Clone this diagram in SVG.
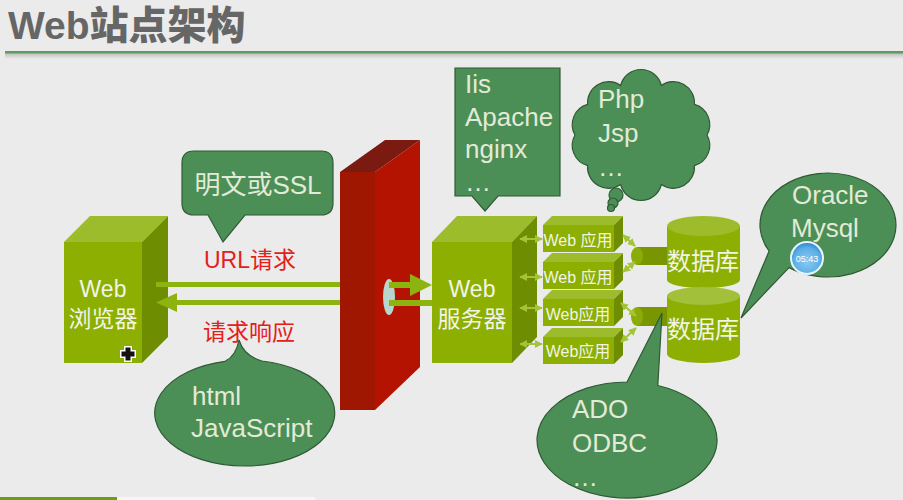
<svg xmlns="http://www.w3.org/2000/svg" width="903" height="500" viewBox="0 0 903 500">
<defs>
<style>
.t{font-family:"Liberation Sans","Noto Sans CJK SC",sans-serif;}
.call{fill:#4b8f56;stroke:#2f5a35;stroke-width:1.2;}
.ct{fill:#e4ead8;font-size:26px;}
.bt{fill:#f2f4e6;font-size:23px;text-anchor:middle;}
.red{fill:#e3201a;font-size:23px;text-anchor:middle;}
.front{fill:#8caf02;}
.top{fill:#9dbc2c;}
.side{fill:#6e8d00;}
.at{fill:#f2f4e6;font-size:16px;text-anchor:middle;}
.thin{stroke:#a3c436;stroke-width:2;fill:none;marker-start:url(#ah);marker-end:url(#ah);}
.bar{fill:#8db40e;}
</style>
<marker id="ah" viewBox="0 0 10 10" refX="9" refY="5" markerWidth="4" markerHeight="4" orient="auto-start-reverse">
<path d="M0,0 L10,5 L0,10 z" fill="#a3c436"/>
</marker>
<linearGradient id="sh" x1="0" y1="0" x2="0" y2="1">
<stop offset="0" stop-color="#bdbdbd"/>
<stop offset="1" stop-color="#ebebeb"/>
</linearGradient>
<radialGradient id="clk" cx="0.5" cy="0.6" r="0.6">
<stop offset="0" stop-color="#8ccaf0"/>
<stop offset="0.7" stop-color="#5aaee6"/>
<stop offset="1" stop-color="#2a7fd0"/>
</radialGradient>
</defs>
<rect width="903" height="500" fill="#ebebeb"/>

<g id="title">
<text x="8" y="39" style="font-family:'Liberation Sans','Noto Sans CJK SC',sans-serif;font-weight:900;font-size:39px;fill:#666666">Web站点架构</text>
<rect x="5" y="53" width="898" height="6" fill="url(#sh)"/>
<rect x="5" y="51" width="898" height="2.5" fill="#5f9a62"/>
</g>

<g id="bottom-strip">
<rect x="0" y="497" width="117" height="3" fill="#6a9f10"/>
<rect x="117" y="497" width="198" height="3" fill="#f6f6f6"/>
</g>

<g id="firewall">
<polygon points="340,172 385,140 420,140 375,172" fill="#7b1a10"/>
<rect x="340" y="172" width="35" height="238" fill="#9f1700"/>
<polygon points="375,172 420,140 420,367 375,410" fill="#b31300"/>
<ellipse cx="389" cy="297" rx="6" ry="18" fill="#b8d6cc"/>
</g>

<g id="browser">
<polygon class="top" points="64,242 90,216 168,216 142,242"/>
<polygon class="side" points="142,242 168,216 168,337 142,363"/>
<rect class="front" x="64" y="242" width="78" height="121"/>
<text class="t bt" x="103" y="297">Web</text>
<text class="t bt" x="103" y="327">浏览器</text>
<path d="M124,346 h8 v4 h4 v8 h-4 v4 h-8 v-4 h-4 v-8 h4 z" fill="#ffffff"/>
<path d="M125.5,347.5 h5 v4 h4 v5 h-4 v4 h-5 v-4 h-4 v-5 h4 z" fill="#111111"/>
</g>

<g id="server">
<polygon class="top" points="432,242 457,216 537,216 512,242"/>
<polygon class="side" points="512,242 537,216 537,337 512,363"/>
<rect class="front" x="432" y="242" width="80" height="121"/>
<text class="t bt" x="472" y="297">Web</text>
<text class="t bt" x="472" y="327">服务器</text>
</g>

<g id="app1">
<polygon class="top" points="543,225 552,216 623,216 614,225"/>
<polygon class="side" points="614,225 623,216 623,243 614,252"/>
<rect class="front" x="543" y="225" width="71" height="27"/>
<text class="t at" x="578" y="246">Web 应用</text>
</g>
<g id="app2">
<polygon class="top" points="543,262 552,253 623,253 614,262"/>
<polygon class="side" points="614,262 623,253 623,280 614,289"/>
<rect class="front" x="543" y="262" width="71" height="27"/>
<text class="t at" x="578" y="283">Web 应用</text>
</g>
<g id="app3">
<polygon class="top" points="543,299 552,290 623,290 614,299"/>
<polygon class="side" points="614,299 623,290 623,317 614,326"/>
<rect class="front" x="543" y="299" width="71" height="27"/>
<text class="t at" x="578" y="320">Web应用</text>
</g>
<g id="app4">
<polygon class="top" points="543,337 552,328 623,328 614,337"/>
<polygon class="side" points="614,337 623,328 623,355 614,364"/>
<rect class="front" x="543" y="337" width="71" height="27"/>
<text class="t at" x="578" y="357">Web应用</text>
</g>

<g id="db-link1">
<rect x="637" y="247" width="31" height="18" fill="#799600"/>
<ellipse cx="637" cy="256" rx="6" ry="9" fill="#8aab08"/>
</g>
<g id="db-link2">
<rect x="637" y="307" width="31" height="19" fill="#799600"/>
<ellipse cx="637" cy="316.5" rx="6" ry="9.5" fill="#8aab08"/>
</g>

<g id="db1">
<rect x="667" y="226" width="73" height="54" fill="#8caf02"/>
<ellipse cx="703.5" cy="280" rx="36.5" ry="8" fill="#8caf02"/>
<ellipse cx="703.5" cy="226" rx="36.5" ry="10" fill="#9dbc2c"/>
<text class="t bt" x="703" y="270" style="font-size:24px">数据库</text>
</g>
<g id="db2">
<rect x="667" y="296" width="73" height="58" fill="#8caf02"/>
<ellipse cx="703.5" cy="354" rx="36.5" ry="9" fill="#8caf02"/>
<ellipse cx="703.5" cy="296" rx="36.5" ry="9" fill="#a2c03a"/>
<text class="t bt" x="703" y="338" style="font-size:24px">数据库</text>
</g>

<g id="connectors">
<rect class="bar" x="156" y="282" width="184" height="5"/>
<rect class="bar" x="175" y="300" width="165" height="5"/>
<polygon class="bar" points="156,302.5 177,293 177,312"/>
<rect class="bar" x="389" y="282" width="24" height="6"/>
<polygon class="bar" points="410,274 432,285 410,296"/>
<rect class="bar" x="389" y="300" width="43" height="6"/>
<line class="thin" x1="520" y1="239" x2="542" y2="239"/>
<line class="thin" x1="520" y1="277" x2="542" y2="277"/>
<line class="thin" x1="520" y1="308" x2="542" y2="308"/>
<line class="thin" x1="520" y1="344" x2="542" y2="344"/>
<line class="thin" x1="623" y1="235" x2="635" y2="246"/>
<line class="thin" x1="623" y1="272" x2="635" y2="262"/>
<line class="thin" x1="621" y1="303" x2="636" y2="316"/>
<line class="thin" x1="621" y1="342" x2="636" y2="328"/>
</g>

<g id="callout-ssl">
<path class="call" d="M194,151 H321 Q333,151 333,163 V203 Q333,215 321,215 H245 L223,242 L208,215 H194 Q182,215 182,203 V163 Q182,151 194,151 Z"/>
<text class="t ct" x="258" y="194" text-anchor="middle">明文或SSL</text>
</g>

<g id="label-url">
<text class="t red" x="250" y="268">URL请求</text>
</g>
<g id="label-resp">
<text class="t red" x="249" y="340">请求响应</text>
</g>

<g id="callout-html">
<path class="call" d="M225,361.3 Q236,356 239,340 Q244,356 262,361 A90 53 0 1 1 225,361.3 Z"/>
<text class="t ct" x="192" y="405">html</text>
<text class="t ct" x="191" y="437">JavaScript</text>
</g>

<g id="callout-server">
<path class="call" d="M455,68 H560 V196 H498 L485,211 L472,196 H455 Z"/>
<text class="t ct" x="465" y="93">Iis</text>
<text class="t ct" x="465" y="126">Apache</text>
<text class="t ct" x="465" y="158">nginx</text>
<text class="t ct" x="465" y="191">…</text>
</g>

<g id="cloud-script">
<path class="call" d="M707,135 A21 21 0 0 1 694.4,165.6 A21 21 0 0 1 661.4,184.5 A21 21 0 0 1 620.6,184.5 A21 21 0 0 1 587.6,165.6 A21 21 0 0 1 575,135 A21 21 0 0 1 587.6,104.4 A21 21 0 0 1 620.6,85.5 A21 21 0 0 1 661.4,85.5 A21 21 0 0 1 694.4,104.4 A21 21 0 0 1 707,135 Z"/>
<circle class="call" cx="616" cy="195" r="7"/>
<circle class="call" cx="613" cy="203" r="5"/>
<circle class="call" cx="611" cy="208" r="3.5"/>
<text class="t ct" x="598" y="108">Php</text>
<text class="t ct" x="598" y="142">Jsp</text>
<text class="t ct" x="598" y="176">…</text>
</g>

<g id="callout-db">
<path class="call" d="M789,267.6 L741,318 L769.1,251 A68 52 0 1 1 789,267.6 Z"/>
<text class="t ct" x="792" y="204">Oracle</text>
<text class="t ct" x="791" y="237">Mysql</text>
</g>

<g id="clock">
<circle cx="807" cy="258" r="16" fill="url(#clk)" stroke="#e8f4fb" stroke-width="2"/>
<text class="t" x="807" y="261.5" text-anchor="middle" style="font-size:9px;fill:#ffffff">05:43</text>
</g>

<g id="callout-ado">
<path class="call" d="M627,382 L662,313 L657.8,385.5 A90 58 0 1 1 627,382 Z"/>
<text class="t ct" x="572" y="418">ADO</text>
<text class="t ct" x="572" y="452">ODBC</text>
<text class="t ct" x="572" y="486">…</text>
</g>
</svg>
